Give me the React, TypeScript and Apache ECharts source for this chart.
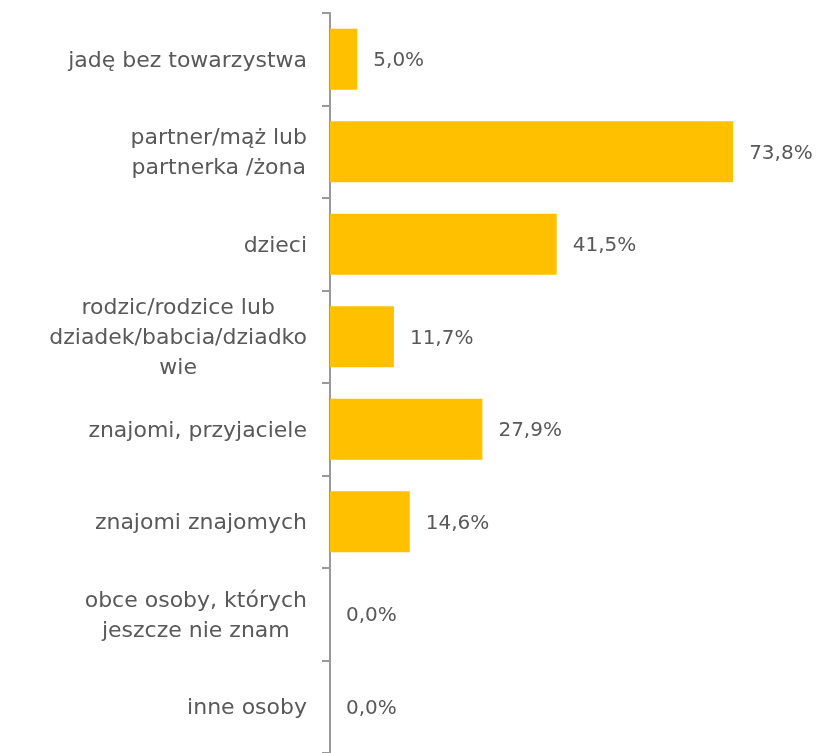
import React, { useEffect, useRef } from "react";
import * as echarts from "echarts";

const categories = [
  "jadę bez towarzystwa",
  "partner/mąż lub\npartnerka /żona",
  "dzieci",
  "rodzic/rodzice lub\ndziadek/babcia/dziadko\nwie",
  "znajomi, przyjaciele",
  "znajomi znajomych",
  "obce osoby, których\njeszcze nie znam",
  "inne osoby",
];
const values = [5.0, 73.8, 41.5, 11.7, 27.9, 14.6, 0.0, 0.0];

export default function App() {
  const ref = useRef<HTMLDivElement>(null);
  useEffect(() => {
    if (!ref.current) return;
    const chart = echarts.init(ref.current, undefined, { renderer: "svg" });
    const font = "'DejaVu Sans', sans-serif";
    chart.setOption({
      animation: false,
      grid: { left: 330, top: 13, width: 437, height: 744 },
      xAxis: {
        type: "value",
        min: 0,
        max: 80,
        show: false,
      },
      yAxis: {
        type: "category",
        inverse: true,
        data: categories,
        axisLine: { lineStyle: { color: "#999999", width: 2 } },
        axisTick: { show: true, length: 8, lineStyle: { color: "#999999", width: 2 } },
        axisLabel: {
          color: "#595959",
          fontFamily: font,
          fontSize: 22,
          lineHeight: 30,
          margin: 23,
          align: "right",
          formatter: (v: string) =>
            v
              .split("\n")
              .map((l) => "{c|" + l + "}")
              .join("\n"),
          rich: {
            c: {
              align: "center",
              color: "#595959",
              fontFamily: font,
              fontSize: 22,
              lineHeight: 30,
            },
          },
        },
        splitLine: { show: false },
      },
      series: [
        {
          type: "bar",
          data: values,
          barWidth: 61,
          itemStyle: { color: "#FFC000" },
          label: {
            show: true,
            position: "right",
            distance: 16,
            color: "#595959",
            fontFamily: font,
            fontSize: 20,
            formatter: (p: any) => p.value.toFixed(1).replace(".", ",") + "%",
          },
        },
      ],
    });
    return () => chart.dispose();
  }, []);
  return (
    <div
      ref={ref}
      style={{ position: "fixed", left: 0, top: 0, width: 818, height: 753 }}
    />
  );
}
